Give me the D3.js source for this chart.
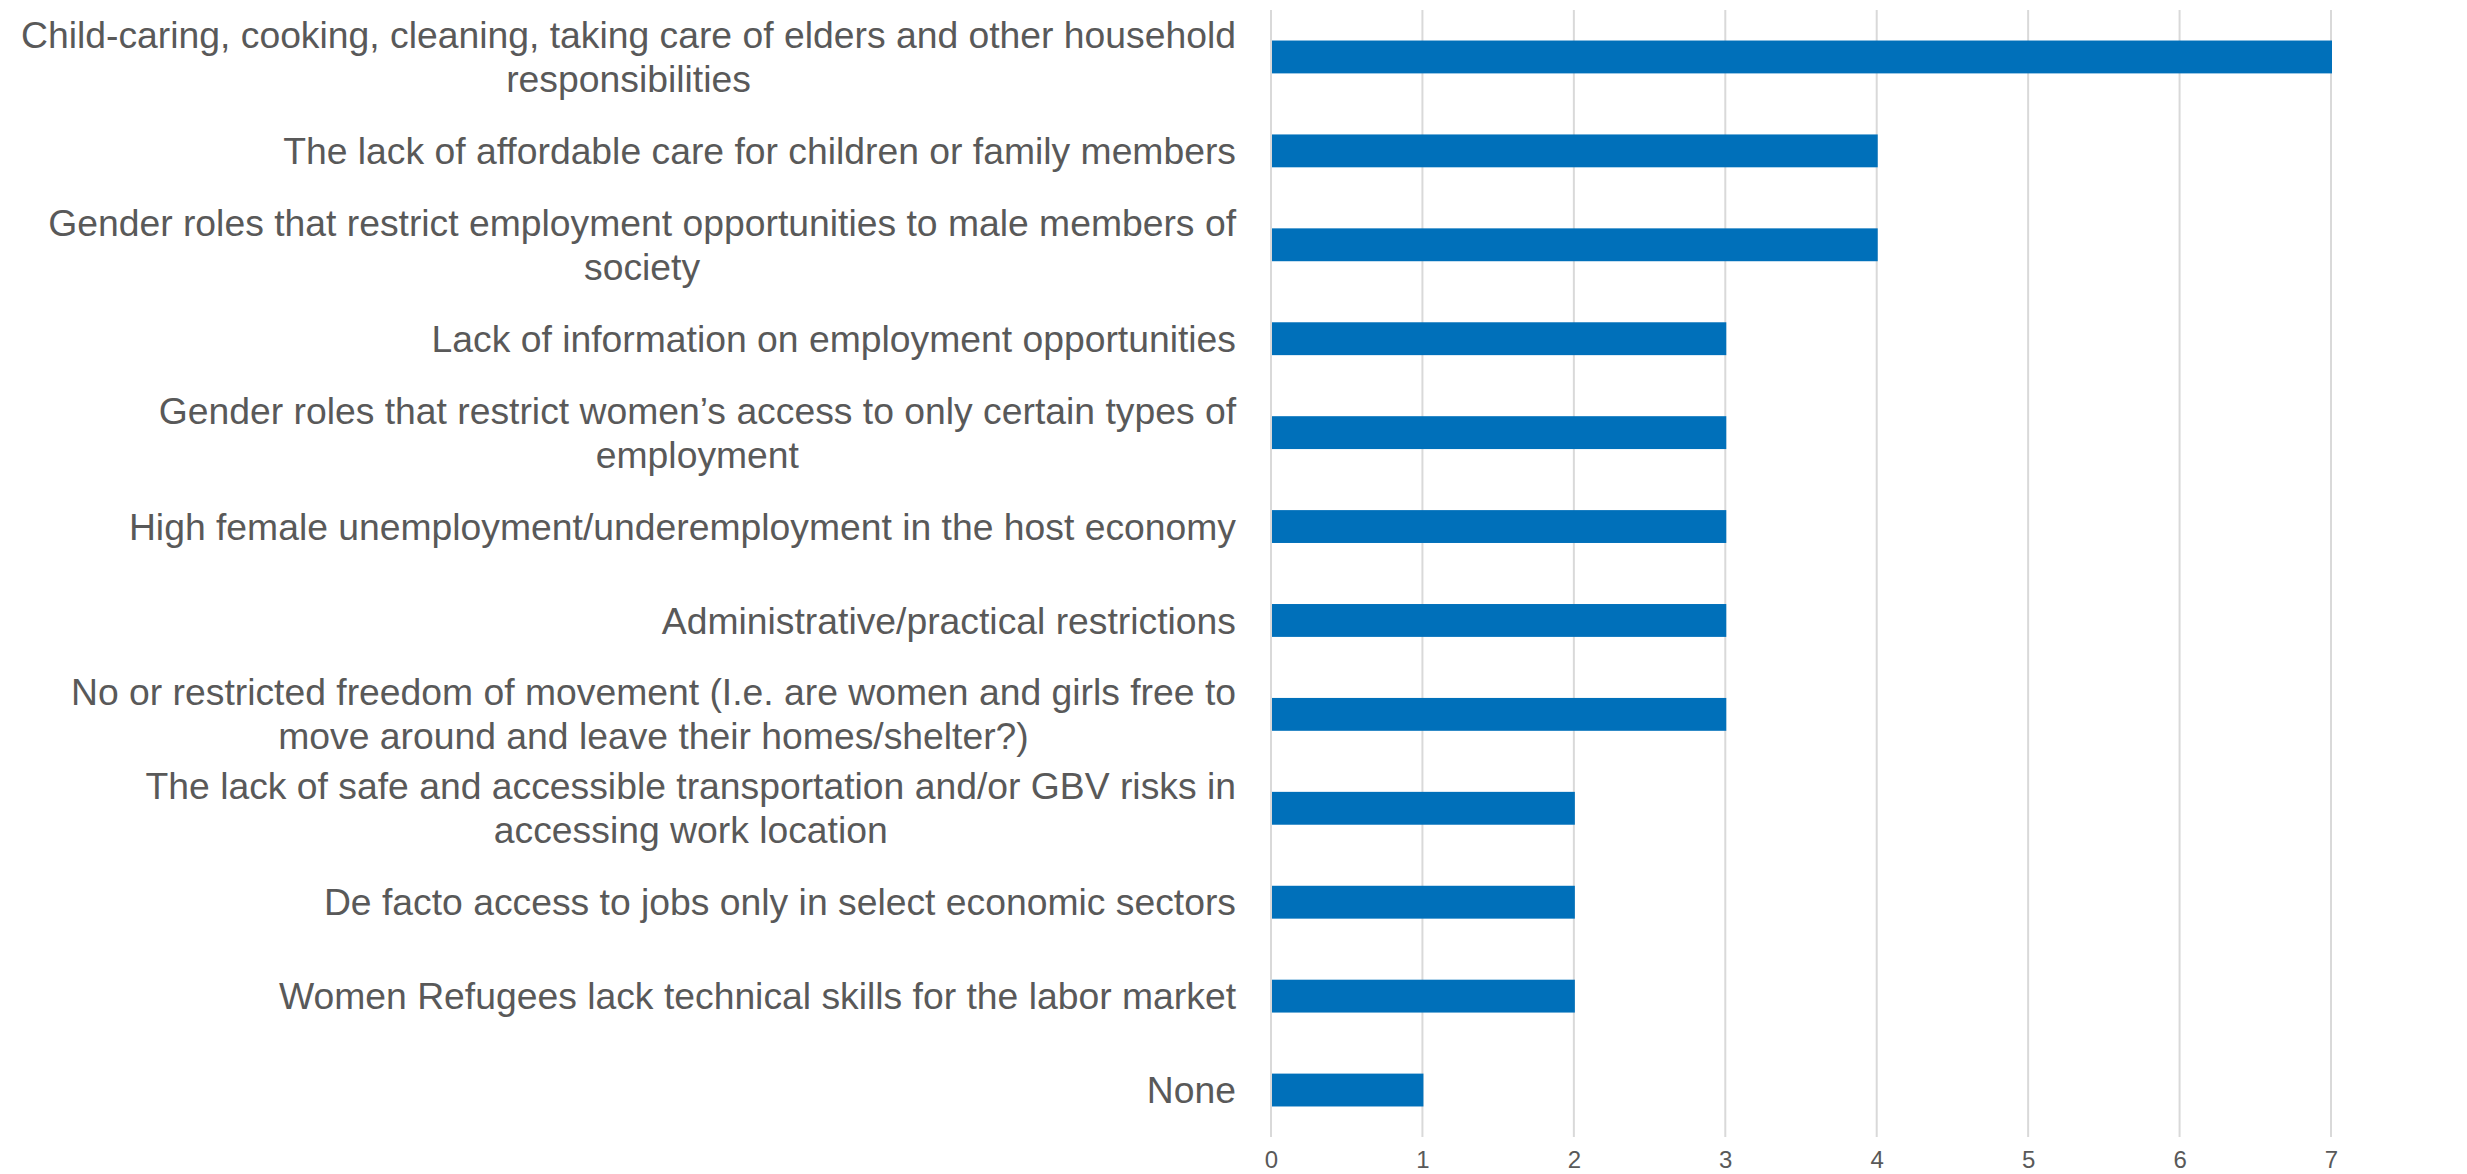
<!DOCTYPE html>
<html>
<head>
<meta charset="utf-8">
<script src="https://cdn.jsdelivr.net/npm/d3@7"></script>
<style>
  body { margin: 0; background: #fff; }
  text { font-family: "Liberation Sans", Arial, sans-serif; }
</style>
</head>
<body>
<div class="chart"></div>
<script>
// categories, top to bottom ("\n" marks where the original label wraps)
const categories = [
    'Child-caring, cooking, cleaning, taking care of elders and other household\nresponsibilities',
    'The lack of affordable care for children or family members',
    'Gender roles that restrict employment opportunities to male members of\nsociety',
    'Lack of information on employment opportunities',
    'Gender roles that restrict women\u2019s access to only certain types of\nemployment',
    'High female unemployment/underemployment in the host economy',
    'Administrative/practical restrictions',
    'No or restricted freedom of movement (I.e. are women and girls free to\nmove around and leave their homes/shelter?)',
    'The lack of safe and accessible transportation and/or GBV risks in\naccessing work location',
    'De facto access to jobs only in select economic sectors',
    'Women Refugees lack technical skills for the labor market',
    'None'
];
const values = [7, 4, 4, 3, 3, 3, 3, 3, 2, 2, 2, 1];
const xTicks = [0, 1, 2, 3, 4, 5, 6, 7];

const W = 2467, H = 1174;
const margin = { top: 10, right: 136, bottom: 37, left: 1271 };
const width = W - margin.left - margin.right,
      height = H - margin.top - margin.bottom;

const svg = d3.select('.chart').append('svg')
    .attr('width', W)
    .attr('height', H);

const g = svg.append('g')
    .attr('transform', 'translate(' + margin.left + ',' + margin.top + ')');

const x = d3.scaleLinear().domain([0, 7]).range([0, width]);
const y = d3.scaleBand().domain(categories).range([0, height]).paddingInner(0.65).paddingOuter(0.325);

// gridlines
g.selectAll('.grid')
    .data(xTicks)
    .enter().append('line')
    .attr('x1', d => x(d)).attr('x2', d => x(d))
    .attr('y1', 0).attr('y2', height)
    .style('stroke', '#d9d9d9')
    .style('stroke-width', 2);

// bars
g.selectAll('.bar')
    .data(values)
    .enter().append('rect')
    .attr('x', x(0) + 1)
    .attr('y', (d, i) => y(categories[i]))
    .attr('height', y.bandwidth())
    .attr('width', d => x(d) - x(0))
    .style('fill', '#0070BA');

// x axis
const xAxis = d3.axisBottom(x).tickValues(xTicks).tickFormat(d3.format('d')).tickSize(0).tickPadding(14);
const ax = g.append('g')
    .attr('transform', 'translate(0,' + height + ')')
    .call(xAxis);
ax.select('.domain').remove();
ax.selectAll('text')
    .style('font-family', '"Liberation Sans", Arial, sans-serif')
    .style('font-size', '24px')
    .style('fill', '#595959');

// category labels, right aligned block, lines centred inside it
const fontSize = 37.3, lineH = 44, labelRight = -35;
categories.forEach(function (c) {
    const lines = c.split('\n');
    const cy = y(c) + y.bandwidth() / 2;
    const t = g.append('text')
        .style('font-size', fontSize + 'px')
        .style('fill', '#595959');
    const spans = lines.map(function (l, i) {
        return t.append('tspan')
            .attr('y', cy + (i - (lines.length - 1) / 2) * lineH)
            .attr('dy', '0.35em')
            .text(l);
    });
    const widths = spans.map(s => s.node().getComputedTextLength());
    const maxW = d3.max(widths);
    spans.forEach(function (s) {
        s.attr('x', labelRight - maxW / 2).attr('text-anchor', 'middle');
    });
});
</script>
</body>
</html>
